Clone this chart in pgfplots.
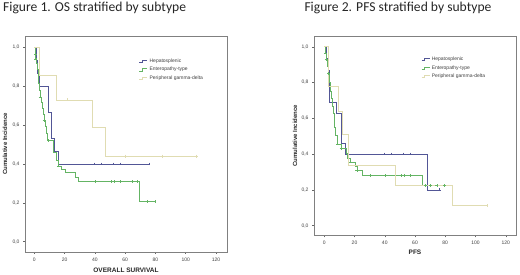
\documentclass[border=0pt]{standalone}
\usepackage{pgfplots}
\pgfplotsset{compat=1.18}
\usepackage{fontspec}
\setmainfont{Liberation Sans}
\newfontfamily\calibri{Carlito}
\definecolor{hep}{RGB}{82,86,150}
\definecolor{ent}{RGB}{100,180,100}
\definecolor{per}{RGB}{224,220,178}
\pgfplotsset{
  kmstyle/.style={
    scale only axis, width=202pt,
    axis line style={black!50, line width=0.5pt},
    tick style={black!60, line width=0.4pt},
    tick align=outside, major tick length=2pt,
    xtick pos=left, ytick pos=left,
    xtick={0,20,40,60,80,100,120},
    ytick={0,0.2,0.4,0.6,0.8,1},
    /pgf/number format/assume math mode=true,
    yticklabel style={/pgf/number format/.cd, fixed, fixed zerofill, precision=1, use comma},
    tick label style={font=\fontsize{5}{6}\selectfont, text=black!75},
    label style={font=\bfseries\fontsize{6}{7}\selectfont, text=black!85},
    xlabel style={font=\bfseries\fontsize{6.5}{7.5}\selectfont},
    legend style={draw=none, fill=none, font=\fontsize{5}{5.6}\selectfont, text=black!75,
      cells={anchor=west}, inner sep=0pt, row sep=-0.6pt, anchor=north west},
    legend image code/.code={\draw[#1, line width=0.5pt] (0pt,-1pt) -- (3pt,-1pt) -- (3pt,1.2pt) -- (8pt,1.2pt);},
    every axis plot/.append style={line width=0.5pt},
    cens/.style={only marks, mark=+, mark size=1.4pt, mark options={line width=0.5pt}, forget plot},
  }
}
\begin{document}
\begin{tikzpicture}[x=1pt,y=1pt]
\useasboundingbox (0,0) rectangle (520,275);
\node[anchor=base west, inner sep=0pt, font=\calibri\fontsize{13.6}{15}\selectfont, text=black!85] at (3,263.6) {Figure 1. OS stratified by subtype};
\node[anchor=base west, inner sep=0pt, font=\calibri\fontsize{13.6}{15}\selectfont, text=black!85] at (304.3,263.6) {Figure 2. PFS stratified by subtype};

% ---------------- OS ----------------
\begin{axis}[kmstyle, at={(25pt,23pt)}, anchor=south west, height=216pt,
  xmin=-6.14, xmax=127.3, ymin=-0.053, ymax=1.058,
  xlabel={OVERALL SURVIVAL}, ylabel={Cumulative Incidence},
  xlabel style={at={(axis description cs:0.5,-0.0866)}, anchor=center},
  ylabel style={at={(axis description cs:-0.099,0.5)}, anchor=center},
  legend style={at={(rel axis cs:0.564,0.905)}}]
\addplot[const plot, color=hep] coordinates {
(0,1.0) (1,0.933) (2.2,0.867) (3.6,0.80) (9,0.667) (11.2,0.533) (13.4,0.467) (15.9,0.40) (75.7,0.40)};
\addlegendentry{Hepatosplenic}
\addplot[const plot, color=ent] coordinates {
(0,1.0) (0.5,0.97) (0.9,0.945) (1.3,0.92) (1.8,0.885) (2.3,0.85) (2.8,0.815) (3.3,0.78) (3.8,0.745)
(4.5,0.715) (5.2,0.685) (5.8,0.655) (6.4,0.625) (7.2,0.595) (7.9,0.56) (8.5,0.52) (12.5,0.46)
(14.5,0.42) (15.8,0.39) (18,0.372) (20.3,0.356) (26.9,0.333) (29,0.31) (69.1,0.207) (79.7,0.207)};
\addlegendentry{Enteropathy-type}
\addplot[const plot, color=per] coordinates {
(0,1.0) (3.4,0.857) (14.5,0.73) (38.5,0.587) (46.9,0.44) (107.2,0.44)};
\addlegendentry{Peripheral gamma-delta}
\addplot[cens, color=per] coordinates {(21.8,0.73) (60.3,0.44) (84.5,0.44) (107.2,0.44)};
\addplot[cens, color=hep] coordinates {(39.6,0.4) (44,0.4) (52.1,0.4) (57,0.4) (75.7,0.4)};
\addplot[cens, color=ent] coordinates {(0.6,0.965) (0.9,0.94) (3.8,0.745) (6.4,0.625) (9.5,0.52) (15.8,0.39)
(40.5,0.31) (50.6,0.31) (52.8,0.31) (57,0.31) (64.7,0.31) (67.8,0.31) (74.8,0.207) (79.7,0.207)};
\end{axis}

% ---------------- PFS ----------------
\begin{axis}[kmstyle, at={(314pt,39.7pt)}, anchor=south west, height=199.3pt,
  xmin=-6.8, xmax=126.8, ymin=-0.054, ymax=1.06,
  xlabel={PFS}, ylabel={Cumulative Incidence},
  xlabel style={at={(axis description cs:0.5,-0.0873)}, anchor=center},
  ylabel style={at={(axis description cs:-0.094,0.5)}, anchor=center},
  legend style={at={(rel axis cs:0.53,0.905)}}]
\addplot[const plot, color=hep] coordinates {
(0,1.0) (1,0.933) (2.6,0.867) (3.4,0.69) (8.2,0.63) (11,0.46) (13.6,0.40) (67.8,0.20) (76,0.20)};
\addlegendentry{Hepatosplenic}
\addplot[const plot, color=ent] coordinates {
(0,1.0) (0.5,0.965) (1.1,0.93) (1.9,0.89) (2.9,0.85) (3.3,0.80) (3.8,0.75) (4.4,0.71) (5.1,0.67)
(5.7,0.63) (6.3,0.59) (6.8,0.55) (7.3,0.507) (8.6,0.456) (11.1,0.432) (14.4,0.404) (15.5,0.377)
(17.5,0.357) (20.3,0.333) (21.5,0.307) (24.8,0.28) (64.9,0.223) (79.5,0.223)};
\addlegendentry{Enteropathy-type}
\addplot[const plot, color=per] coordinates {
(0,1.0) (2.6,0.778) (9.5,0.64) (12.2,0.51) (15.9,0.335) (46.8,0.223) (84.4,0.112) (107.5,0.112)};
\addlegendentry{Peripheral gamma-delta}
\addplot[cens, color=per] coordinates {(107.5,0.112)};
\addplot[cens, color=hep] coordinates {(0.8,0.965) (39.7,0.4) (44,0.4) (51.9,0.4) (56.8,0.4) (76,0.2)};
\addplot[cens, color=ent] coordinates {(0.6,0.965) (1.1,0.93) (2.9,0.85) (8.6,0.456) (11.1,0.432) (17.5,0.357) (21.5,0.307)
(30.3,0.28) (40.2,0.28) (50.8,0.28) (53,0.28) (56.8,0.28) (67.1,0.223) (70.4,0.223) (74.4,0.223) (79.5,0.223)};
\end{axis}
\end{tikzpicture}
\end{document}
